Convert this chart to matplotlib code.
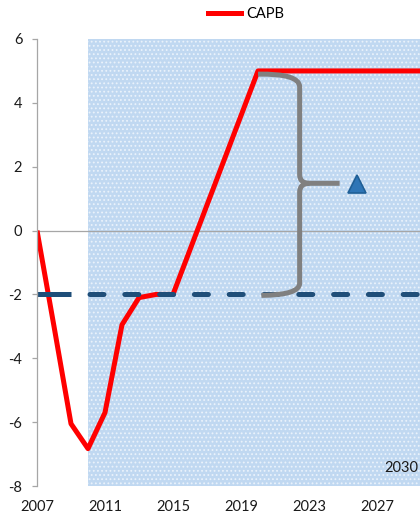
import matplotlib
matplotlib.use("Agg")
import matplotlib.pyplot as plt
from matplotlib.path import Path
from matplotlib.patches import PathPatch
from matplotlib.lines import Line2D

plt.rcParams['font.family'] = ['Lato', 'DejaVu Sans']
plt.rcParams['lines.scale_dashes'] = False
plt.rcParams['hatch.linewidth'] = 0.8

# Cyclically adjusted primary balance (CAPB), % of GDP
years = [2007, 2008, 2009, 2010, 2011, 2012, 2013, 2014, 2015,
         2016, 2017, 2018, 2019, 2020, 2021, 2022, 2023, 2024,
         2025, 2026, 2027, 2028, 2029, 2030]
capb = [0.0, -3.0, -6.05, -6.83, -5.7, -2.95, -2.1, -2.0, -2.0,
        -0.6, 0.8, 2.2, 3.6, 5.0, 5.0, 5.0, 5.0, 5.0,
        5.0, 5.0, 5.0, 5.0, 5.0, 5.0]

# Reference balance level
base_years_solid = [2007, 2009]
base_years_dash = [2009, 2030]
base_level = -2.0

# Projection period shading
shade_start = 2010
shade_end = 2031

# Adjustment marker
delta_x = 2025.8
delta_y = 1.47

xtick_years = [2007, 2011, 2015, 2019, 2023, 2027]
yticks = [6, 4, 2, 0, -2, -4, -6, -8]

W, H = 420, 517
fig = plt.figure(figsize=(W / 100, H / 100), dpi=100)
ax = fig.add_axes([37 / W, 31 / H, (W - 37) / W, (486 - 39) / H])

ax.set_xlim(2007, 2007 + (W - 37) / 17.0)
ax.set_ylim(-8, 6)

# shaded projection window
ax.axvspan(shade_start, shade_end, ymin=0, ymax=1, facecolor='#c0d8f1',
           edgecolor='#eaf2fb', hatch='....', linewidth=0, zorder=0)

# zero line
ax.axhline(0, color='#a6a6a6', linewidth=0.9, zorder=1)

# CAPB path
ax.plot(years, capb, color='#ff0000', linewidth=3.6, solid_joinstyle='round',
        solid_capstyle='butt', zorder=3, label='CAPB')

# reference level: solid stretch then dashed
ax.plot(base_years_solid, [base_level] * 2, color='#1f4e79', linewidth=3.6,
        solid_capstyle='butt', zorder=4)
on, off = 14 * 0.72, 20.8 * 0.72
ax.plot(base_years_dash, [base_level] * 2, color='#1f4e79', linewidth=3.6,
        dash_capstyle='round', linestyle=(16.3 * 0.72, (on, off)), zorder=4)

# curly brace spanning the adjustment
bx = 2022.45
verts = [
    (2020.0, 4.9),
    (bx, 4.92), (bx, 4.5),
    (bx, 1.75),
    (bx, 1.48), (2023.0, 1.48),
    (2024.8, 1.48),
    (2023.0, 1.48),
    (bx, 1.48), (bx, 1.2),
    (bx, -1.65),
    (bx, -2.02), (2020.2, -2.03),
]
codes = [Path.MOVETO,
         Path.CURVE3, Path.CURVE3,
         Path.LINETO,
         Path.CURVE3, Path.CURVE3,
         Path.LINETO,
         Path.MOVETO,
         Path.CURVE3, Path.CURVE3,
         Path.LINETO,
         Path.CURVE3, Path.CURVE3]
ax.add_patch(PathPatch(Path(verts, codes), facecolor='none', edgecolor='#808080',
                       linewidth=3.6, capstyle='butt', joinstyle='round', zorder=5))

ax.plot([delta_x], [delta_y], marker='^', markersize=12.5, color='#2e75b6',
        markeredgecolor='#1f5f96', markeredgewidth=1.2, linestyle='none', zorder=6)

ax.text(2007 + (418 - 37) / 17.0, -7.45, '2030', ha='right', va='center',
        fontsize=10.5, color='#1a1a1a', zorder=6)

# axes styling
for s in ['top', 'right', 'bottom']:
    ax.spines[s].set_visible(False)
ax.spines['left'].set_color('#a6a6a6')
ax.spines['left'].set_linewidth(0.9)
ax.spines['left'].set_zorder(7)

ax.set_yticks(yticks)
ax.set_yticklabels([str(v) for v in yticks])
ax.tick_params(axis='y', direction='out', length=3.6, width=0.9, color='#a6a6a6',
               pad=7, labelsize=10.5, labelcolor='#1a1a1a')
ax.set_xticks(xtick_years)
ax.set_xticklabels([str(v) for v in xtick_years])
ax.tick_params(axis='x', length=0, pad=10, labelsize=10.5, labelcolor='#1a1a1a')

handle = Line2D([], [], color='#ff0000', linewidth=3.6)
fig.legend([handle], ['CAPB'], loc='center', bbox_to_anchor=(246 / W, 1 - 14 / H),
           frameon=False, fontsize=10.5, handlelength=2.3, handletextpad=0.35,
           borderpad=0, borderaxespad=0)

fig.savefig('out.png', dpi=100)
